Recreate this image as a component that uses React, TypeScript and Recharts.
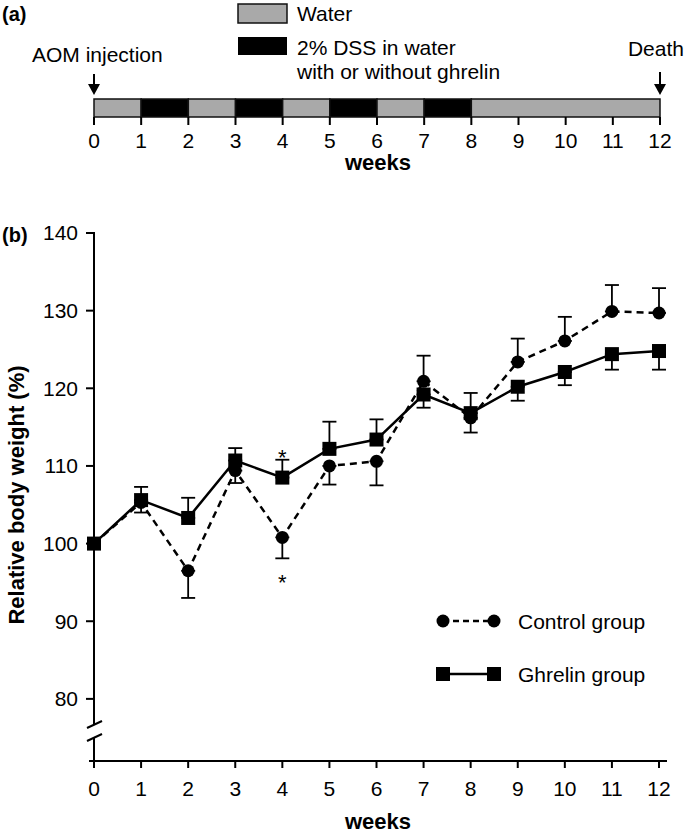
import React from "react";
import {
  BarChart,
  Bar,
  ComposedChart,
  Line,
  XAxis,
  YAxis,
  ErrorBar,
  ReferenceDot,
} from "recharts";

// ---- panel (a): treatment schedule ----
const scheduleLengths = [1, 1, 1, 1, 1, 1, 1, 1, 4];
const scheduleKinds = ["water", "dss", "water", "dss", "water", "dss", "water", "dss", "water"];
const weekTicks = [0, 1, 2, 3, 4, 5, 6, 7, 8, 9, 10, 11, 12];

// ---- panel (b): relative body weight ----
const weeks = [0, 1, 2, 3, 4, 5, 6, 7, 8, 9, 10, 11, 12];
const control = [100, 105.3, 96.5, 109.4, 100.8, 110.0, 110.6, 120.9, 116.2, 123.4, 126.1, 129.9, 129.7];
const controlErrLow = [0, 1.3, 3.5, 1.6, 2.7, 2.4, 3.1, 0, 0, 0, 0, 0, 0];
const controlErrHigh = [0, 0, 0, 0, 0, 0, 0, 3.3, 3.2, 3.0, 3.1, 3.4, 3.2];
const ghrelin = [100, 105.6, 103.3, 110.7, 108.5, 112.2, 113.4, 119.2, 116.8, 120.2, 122.1, 124.4, 124.8];
const ghrelinErrLow = [0, 0, 0, 0, 0, 0, 0, 1.7, 2.5, 1.8, 1.7, 2.0, 2.4];
const ghrelinErrHigh = [0, 1.7, 2.6, 1.6, 2.3, 3.5, 2.6, 0, 0, 0, 0, 0, 0];
const yTicks = [80, 90, 100, 110, 120, 130, 140];

const FONT = "'Liberation Sans', Arial, sans-serif";
const GRAY = "#a9a9a9";

const scheduleRow: Record<string, any> = { name: "schedule" };
scheduleLengths.forEach((len, i) => {
  scheduleRow["s" + i] = len;
});
const scheduleData = [scheduleRow];

const weightData = weeks.map((w, i) => ({
  week: w,
  control: control[i],
  controlErr: [controlErrLow[i], controlErrHigh[i]],
  ghrelin: ghrelin[i],
  ghrelinErr: [ghrelinErrLow[i], ghrelinErrHigh[i]],
}));

const CircleDot = (props: any) => {
  const { cx, cy } = props;
  if (cx == null || cy == null) return null;
  return <circle cx={cx} cy={cy} r={6.5} fill="#000" />;
};

const SquareDot = (props: any) => {
  const { cx, cy } = props;
  if (cx == null || cy == null) return null;
  return <rect x={cx - 7} y={cy - 7} width={14} height={14} fill="#000" />;
};

const Asterisk = (props: any) => {
  const { cx, cy } = props;
  return (
    <text x={cx} y={cy + 13} textAnchor="middle" fontSize={22} fontFamily={FONT} fill="#000">
      *
    </text>
  );
};

const Arrow = ({ x, y1, y2 }: { x: number; y1: number; y2: number }) => (
  <g>
    <line x1={x} y1={y1} x2={x} y2={y2 - 8} stroke="#000" strokeWidth={2} />
    <polygon points={`${x - 6},${y2 - 11} ${x + 6},${y2 - 11} ${x},${y2}`} fill="#000" />
  </g>
);

export default function App() {
  return (
    <div
      style={{
        position: "absolute",
        left: 0,
        top: 0,
        width: 686,
        height: 839,
        background: "#fff",
        fontFamily: FONT,
      }}
    >
      {/* panel (a) */}
      <div style={{ position: "absolute", left: 0, top: 0 }}>
        <BarChart
          width={686}
          height={180}
          data={scheduleData}
          layout="vertical"
          barCategoryGap={0}
          margin={{ top: 99, right: 26, left: 94, bottom: 23 }}
        >
          <XAxis
            type="number"
            domain={[0, 12]}
            ticks={weekTicks}
            axisLine={false}
            tickLine={{ stroke: "#000", strokeWidth: 2 }}
            tickSize={8}
            tickMargin={8}
            height={40}
            interval={0}
            tick={{ fontSize: 21, fill: "#000", fontFamily: FONT }}
          />
          <YAxis type="category" dataKey="name" hide />
          {scheduleKinds.map((kind, i) => (
            <Bar
              key={i}
              dataKey={"s" + i}
              stackId="a"
              fill={kind === "water" ? GRAY : "#000"}
              stroke="#111"
              strokeWidth={1.5}
              isAnimationActive={false}
            />
          ))}
        </BarChart>
      </div>

      {/* panel (b) */}
      <div style={{ position: "absolute", left: 0, top: 0 }}>
        <ComposedChart
          width={686}
          height={839}
          data={weightData}
          margin={{ top: 233, right: 27, left: 34, bottom: 38 }}
        >
          <XAxis
            type="number"
            dataKey="week"
            domain={[0, 12]}
            ticks={weeks}
            interval={0}
            axisLine={false}
            tickLine={{ stroke: "#000", strokeWidth: 2 }}
            tickSize={7}
            tickMargin={13}
            height={40}
            tick={{ fontSize: 21, fill: "#000", fontFamily: FONT }}
          />
          <YAxis
            type="number"
            domain={[72, 140]}
            ticks={yTicks}
            interval={0}
            axisLine={false}
            tickLine={{ stroke: "#000", strokeWidth: 2 }}
            tickSize={8}
            tickMargin={8}
            width={60}
            tick={{ fontSize: 21, fill: "#000", fontFamily: FONT }}
          />
          <Line
            dataKey="control"
            stroke="#000"
            strokeWidth={2.5}
            strokeDasharray="7 5"
            dot={<CircleDot />}
            activeDot={false}
            isAnimationActive={false}
          >
            <ErrorBar dataKey="controlErr" direction="y" width={7} stroke="#000" strokeWidth={1.8} />
          </Line>
          <Line
            dataKey="ghrelin"
            stroke="#000"
            strokeWidth={2.5}
            dot={<SquareDot />}
            activeDot={false}
            isAnimationActive={false}
          >
            <ErrorBar dataKey="ghrelinErr" direction="y" width={7} stroke="#000" strokeWidth={1.8} />
          </Line>
          <ReferenceDot x={4} y={111.8} r={0} shape={<Asterisk />} />
          <ReferenceDot x={4} y={95.7} r={0} shape={<Asterisk />} />
        </ComposedChart>
      </div>

      {/* annotations */}
      <svg
        width={686}
        height={839}
        style={{ position: "absolute", left: 0, top: 0, pointerEvents: "none" }}
        fontFamily={FONT}
      >
        {/* panel (a) texts */}
        <text x={2} y={21} fontSize={20} fontWeight="bold">(a)</text>
        <text x={32} y={62} fontSize={21}>AOM injection</text>
        <Arrow x={94} y1={74} y2={95} />
        <text x={684} y={56} fontSize={21} textAnchor="end">Death</text>
        <Arrow x={660} y1={72} y2={95} />
        <rect x={238} y={4} width={49} height={19} fill={GRAY} stroke="#111" strokeWidth={1.5} />
        <text x={297} y={21} fontSize={21}>Water</text>
        <rect x={238} y={37} width={49} height={18} fill="#000" />
        <text x={297} y={55} fontSize={21}>2% DSS in water</text>
        <text x={297} y={79} fontSize={21}>with or without ghrelin</text>
        <text x={378} y={170} fontSize={22} fontWeight="bold" textAnchor="middle">weeks</text>

        {/* panel (b) texts */}
        <text x={2} y={242} fontSize={20} fontWeight="bold">(b)</text>
        <text
          x={0}
          y={0}
          fontSize={22}
          fontWeight="bold"
          textAnchor="middle"
          transform="translate(24 495) rotate(-90)"
        >
          Relative body weight (%)
        </text>
        <text x={378} y={829} fontSize={22} fontWeight="bold" textAnchor="middle">weeks</text>

        {/* axes with break */}
        <line x1={94} y1={232} x2={94} y2={725} stroke="#000" strokeWidth={2} />
        <line x1={94} y1={737} x2={94} y2={762} stroke="#000" strokeWidth={2} />
        <line x1={87} y1={728} x2={102} y2={721} stroke="#000" strokeWidth={2} />
        <line x1={87} y1={741} x2={102} y2={734} stroke="#000" strokeWidth={2} />
        <line x1={89} y1={761} x2={667} y2={761} stroke="#000" strokeWidth={2} />

        {/* legend */}
        <line x1={443} y1={621} x2={494} y2={621} stroke="#000" strokeWidth={2.5} strokeDasharray="6 4" />
        <circle cx={443} cy={621} r={6.5} />
        <circle cx={494} cy={621} r={6.5} />
        <text x={518} y={629} fontSize={21}>Control group</text>
        <line x1={443} y1={674} x2={494} y2={674} stroke="#000" strokeWidth={2.5} />
        <rect x={436} y={667} width={14} height={14} />
        <rect x={487} y={667} width={14} height={14} />
        <text x={518} y={682} fontSize={21}>Ghrelin group</text>
      </svg>
    </div>
  );
}
